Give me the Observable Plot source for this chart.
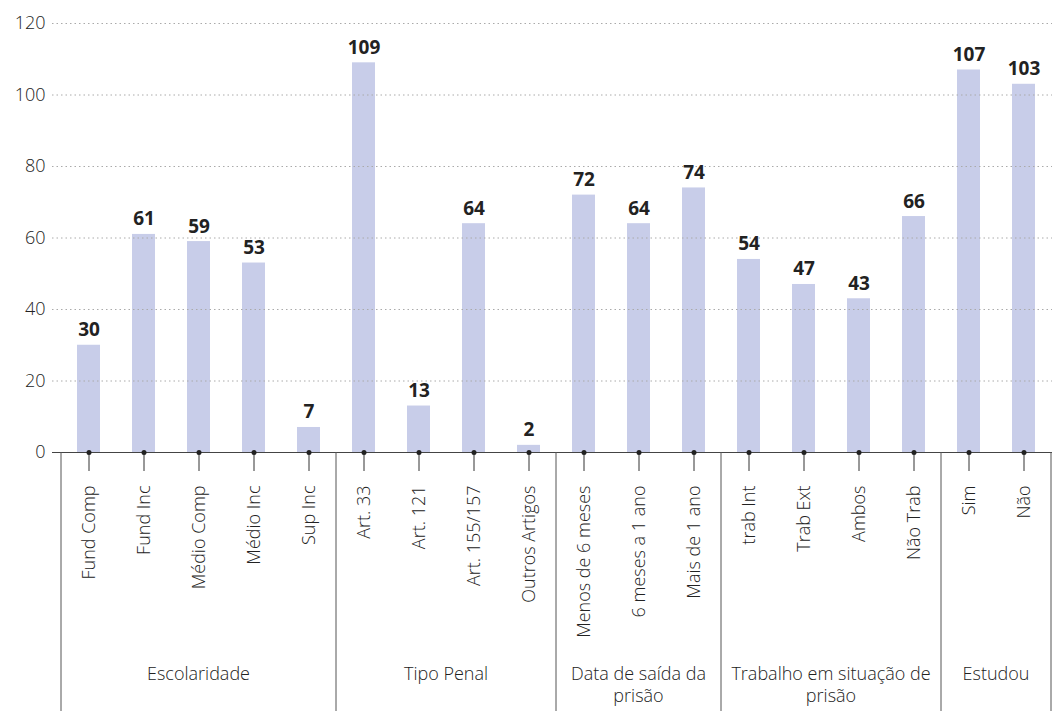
<!DOCTYPE html>
<html><head><meta charset="utf-8">
<script src="https://cdn.jsdelivr.net/npm/d3@7"></script>
<script src="https://cdn.jsdelivr.net/npm/@observablehq/plot@0.6"></script>
<style>body{margin:0;background:#fff} svg{display:block}</style>
</head><body><div id="chart"></div>
<script>
const categories = ["Fund Comp","Fund Inc","Médio Comp","Médio Inc","Sup Inc",
  "Art. 33","Art. 121","Art. 155/157","Outros Artigos",
  "Menos de 6 meses","6 meses a 1 ano","Mais de 1 ano",
  "trab Int","Trab Ext","Ambos","Não Trab",
  "Sim","Não"];
const values = [30,61,59,53,7, 109,13,64,2, 72,64,74, 54,47,43,66, 107,103];
const groupOf = ["Escolaridade","Escolaridade","Escolaridade","Escolaridade","Escolaridade",
  "Tipo Penal","Tipo Penal","Tipo Penal","Tipo Penal",
  "Data de saída da prisão","Data de saída da prisão","Data de saída da prisão",
  "Trabalho em situação de prisão","Trabalho em situação de prisão","Trabalho em situação de prisão","Trabalho em situação de prisão",
  "Estudou","Estudou"];
const groupNames = ["Escolaridade","Tipo Penal","Data de saída da prisão","Trabalho em situação de prisão","Estudou"];
const groupLines = [["Escolaridade"],["Tipo Penal"],["Data de saída da","prisão"],["Trabalho em situação de","prisão"],["Estudou"]];
const yTicks = [0,20,40,60,80,100,120];

const data = categories.map((c,i)=>({cat:c, value:values[i], group:groupOf[i]}));
const FONT = "'Open Sans', sans-serif";

function groupAxis(index, scales, channels, dims) {
  const x = scales.x, y = scales.y;
  const bw = x.bandwidth();
  const step = x.step();
  const g = d3.create("svg:g");
  const y0 = y(0), yb = dims.height;
  let lastRight = 0;
  groupNames.forEach((name, gi) => {
    const cats = data.filter(d => d.group === name).map(d => d.cat);
    const left = x(cats[0]) + bw/2 - step/2;
    const right = x(cats[cats.length-1]) + bw/2 + step/2;
    lastRight = right;
    g.append("line").attr("x1", left).attr("x2", left).attr("y1", y0).attr("y2", yb)
      .attr("stroke", "#555").attr("stroke-width", 1);
    const t = g.append("text").attr("text-anchor", "middle").attr("dominant-baseline", "middle")
      .attr("font-family", FONT).attr("font-size", 18).attr("font-weight", 300).attr("fill", "#222");
    groupLines[gi].forEach((ln, li) => {
      t.append("tspan").attr("x", (left+right)/2).attr("y", yb - 36 + li*22).text(ln);
    });
  });
  g.append("line").attr("x1", lastRight).attr("x2", lastRight).attr("y1", y0).attr("y2", yb)
    .attr("stroke", "#555").attr("stroke-width", 1);
  return g.node();
}

const chart = Plot.plot({
  width: 1057,
  height: 711,
  marginTop: 23,
  marginBottom: 259,
  marginLeft: 60,
  marginRight: 5,
  style: {fontFamily: FONT, fontSize: "18px", color: "#222", background: "#fff"},
  x: {domain: categories, paddingInner: 0.58, paddingOuter: 0.29, label: null},
  y: {domain: [0, 120], ticks: yTicks, label: null},
  marks: [
    Plot.barY(data, {x: "cat", y: "value", fill: "#c8cde9"}),
    Plot.ruleY(yTicks.filter(d => d > 0), {stroke: "#aaa", strokeDasharray: "1.5,3", insetLeft: -8}),
    Plot.ruleY([0], {stroke: "#444", strokeWidth: 1.2, insetLeft: -8}),
    Plot.axisY({ticks: yTicks, tickSize: 0, tickPadding: 15, fontSize: 18, fontWeight: 300, fill: "#222", label: null}),
    Plot.axisX({tickSize: 19, tickPadding: 14, tickRotate: -90, fontSize: 18, fontWeight: 300, fill: "#222", label: null, stroke: "#333"}),
    Plot.dot(data, {x: "cat", y: 0, r: 2.5, fill: "#222"}),
    Plot.text(data, {x: "cat", y: "value", text: d => String(d.value), lineAnchor: "bottom", dy: -9,
      fontWeight: "bold", fontSize: 19, fill: "#222"}),
    groupAxis
  ]
});
document.getElementById("chart").appendChild(chart);
</script>
</body></html>
